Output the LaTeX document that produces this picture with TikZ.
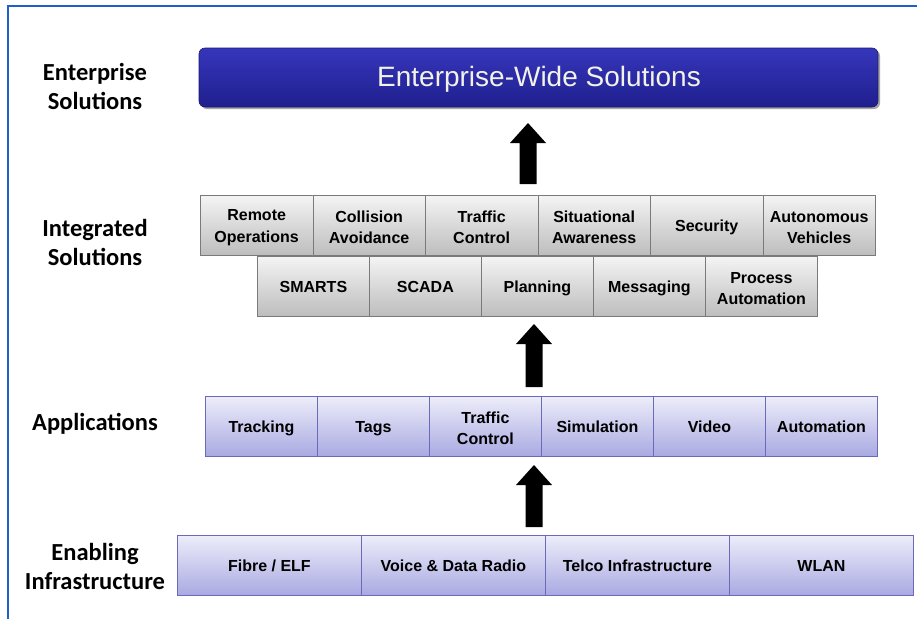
\documentclass[tikz,border=0pt]{standalone}
\usepackage{fontspec}
\setmainfont{Liberation Sans}
\newfontfamily\lblfont{Carlito}
\definecolor{greytop}{HTML}{F4F4F4}
\definecolor{greybot}{HTML}{BDBDBD}
\definecolor{greyline}{HTML}{7A7A7A}
\definecolor{purtop}{HTML}{EDEDFA}
\definecolor{purbot}{HTML}{A9A9E2}
\definecolor{purline}{HTML}{6A6AB8}
\definecolor{bartop}{HTML}{3636BC}
\definecolor{barbot}{HTML}{1F1F8E}
\definecolor{framec}{HTML}{1E5FCB}
\definecolor{bartext}{HTML}{F2F2E6}
\newcommand\oneline[1]{\raisebox{0pt}[\dimexpr\height+4pt\relax][\depth]{\vphantom{Tg}#1}}
\newcommand\twoline{\rule{0pt}{15.5pt}}
\tikzset{
  gbox/.style={draw=greyline, line width=0.8pt, top color=greytop, bottom color=greybot,
    minimum height=60pt, inner sep=0pt, anchor=north west, align=center,
    font=\bfseries\fontsize{16}{21.5}\selectfont},
  pbox/.style={draw=purline, line width=0.8pt, top color=purtop, bottom color=purbot,
    minimum height=60pt, inner sep=0pt, anchor=north west, align=center,
    font=\bfseries\fontsize{16}{21.5}\selectfont},
  layerlabel/.style={align=center, font=\lblfont\bfseries\fontsize{24.5}{29}\selectfont},
  blockarrow/.style={fill=black, draw=none}
}
\newcommand\blkarrow[3]{% cx, tip y, bottom y
  \fill[blockarrow] (#1,#2) -- (#1+18,#2+20) -- (#1+8.5,#2+20) -- (#1+8.5,#3)
    -- (#1-8.5,#3) -- (#1-8.5,#2+20) -- (#1-18,#2+20) -- cycle;}
\begin{document}
\begin{tikzpicture}[x=1pt,y=-1pt]
\useasboundingbox (0,0) rectangle (917,619);
\fill[white] (0,0) rectangle (917,619);
% frame
\draw[framec, line width=2pt] (917,6) -- (8,6) -- (8,619);

% layer labels
\node[layerlabel] (lent) at (95,86) {Enterprise\\Solutions};
\node[layerlabel] (lint) at (95,242) {Integrated\\Solutions};
\node[layerlabel] (lapp) at (95,424) {Applications};
\node[layerlabel] (linf) at (95,566) {Enabling\\Infrastructure};

% enterprise bar
\fill[black!35, rounded corners=6pt] (201,50) rectangle (880,109);
\shade[top color=bartop, bottom color=barbot, rounded corners=6pt, draw=barbot!80!black, line width=0.6pt]
  (199,48) rectangle (878,107);
\node[text=bartext, font=\fontsize{28}{30}\selectfont] (ews) at (539,79) {Enterprise-Wide Solutions};

% integrated solutions row 1
\foreach \i/\nm/\t in {0/r1a/{\twoline Remote\\Operations},1/r1b/{\twoline Collision\\Avoidance},2/r1c/{\twoline Traffic\\Control},
    3/r1d/{\twoline Situational\\Awareness},4/r1e/{\oneline{Security}},5/r1f/{\twoline Autonomous\\Vehicles}}
  \node[gbox, minimum width=112.5pt] (\nm) at (200+\i*112.5,195) {\t};
% integrated solutions row 2
\foreach \i/\nm/\t in {0/r2a/{\oneline{SMARTS}},1/r2b/{\oneline{SCADA}},2/r2c/{\oneline{Planning}},3/r2d/{\oneline{Messaging}},4/r2e/{\twoline Process\\Automation}}
  \node[gbox, minimum width=112pt] (\nm) at (257+\i*112,256) {\t};

% applications
\foreach \i/\nm/\t in {0/a1/{\oneline{Tracking}},1/a2/{\oneline{Tags}},2/a3/{\twoline Traffic\\Control},3/a4/{\oneline{Simulation}},4/a5/{\oneline{Video}},5/a6/{\oneline{Automation}}}
  \node[pbox, minimum width=112pt] (\nm) at (205+\i*112,396) {\t};

% infrastructure
\foreach \i/\nm/\t in {0/i1/{\oneline{Fibre / ELF}},1/i2/{\oneline{Voice \& Data Radio}},2/i3/{\oneline{Telco Infrastructure}},3/i4/{\oneline{WLAN}}}
  \node[pbox, minimum width=184pt] (\nm) at (177+\i*184,535) {\t};

% block arrows
\blkarrow{528}{123}{184}
\blkarrow{534}{324}{387}
\blkarrow{534}{465}{527}
\end{tikzpicture}
\end{document}
